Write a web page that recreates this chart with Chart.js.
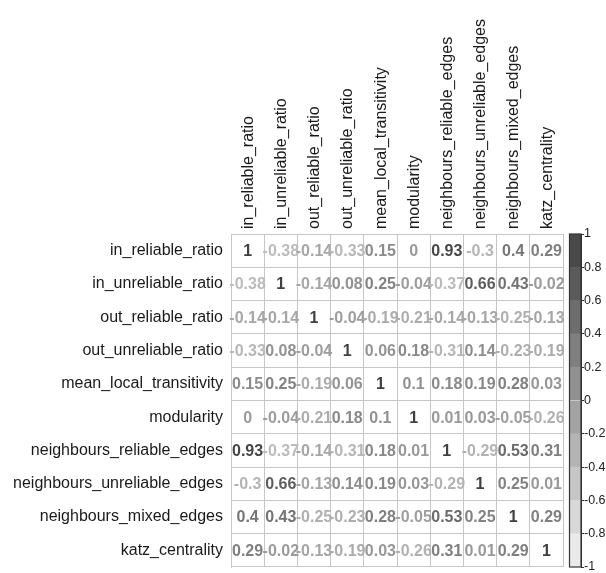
<!DOCTYPE html>
<html lang="en">
<head>
    <title>Correlation matrix</title>
    <script src="https://cdn.jsdelivr.net/npm/chart.js"></script>
    <style>
        body { margin: 0; background: #fff; }
        #wrap { position: relative; width: 606px; height: 573px; }
        #wrap canvas { position: absolute; top: 0; }
    </style>
</head>
<body>

<div id="wrap">
    <canvas id="heat" width="606" height="573" style="left:0"></canvas>
    <canvas id="bar" width="46" height="573" style="left:560px"></canvas>
</div>

<script>
    var varNames = [
        "in_reliable_ratio", "in_unreliable_ratio", "out_reliable_ratio", "out_unreliable_ratio",
        "mean_local_transitivity", "modularity", "neighbours_reliable_edges",
        "neighbours_unreliable_edges", "neighbours_mixed_edges", "katz_centrality"
    ];

    // one row per variable
    var rowInReliable      = [1, -0.38, -0.14, -0.33, 0.15, 0, 0.93, -0.3, 0.4, 0.29];
    var rowInUnreliable    = [-0.38, 1, -0.14, 0.08, 0.25, -0.04, -0.37, 0.66, 0.43, -0.02];
    var rowOutReliable     = [-0.14, -0.14, 1, -0.04, -0.19, -0.21, -0.14, -0.13, -0.25, -0.13];
    var rowOutUnreliable   = [-0.33, 0.08, -0.04, 1, 0.06, 0.18, -0.31, 0.14, -0.23, -0.19];
    var rowTransitivity    = [0.15, 0.25, -0.19, 0.06, 1, 0.1, 0.18, 0.19, 0.28, 0.03];
    var rowModularity      = [0, -0.04, -0.21, 0.18, 0.1, 1, 0.01, 0.03, -0.05, -0.26];
    var rowNbReliable      = [0.93, -0.37, -0.14, -0.31, 0.18, 0.01, 1, -0.29, 0.53, 0.31];
    var rowNbUnreliable    = [-0.3, 0.66, -0.13, 0.14, 0.19, 0.03, -0.29, 1, 0.25, 0.01];
    var rowNbMixed         = [0.4, 0.43, -0.25, -0.23, 0.28, -0.05, 0.53, 0.25, 1, 0.29];
    var rowKatz            = [0.29, -0.02, -0.13, -0.19, 0.03, -0.26, 0.31, 0.01, 0.29, 1];

    var corrRows = [rowInReliable, rowInUnreliable, rowOutReliable, rowOutUnreliable, rowTransitivity,
        rowModularity, rowNbReliable, rowNbUnreliable, rowNbMixed, rowKatz];

    var legendEdges = [-1, -0.8, -0.6, -0.4, -0.2, 0, 0.2, 0.4, 0.6, 0.8, 1];

    // grey ramp: -1 light, 1 dark
    function grey(v) {
        var g = Math.round(243 - (v + 1) / 2 * 179);
        return "rgb(" + g + "," + g + "," + g + ")";
    }

    var points = [];
    for (var i = 0; i < corrRows.length; i++) {
        for (var j = 0; j < corrRows[i].length; j++) {
            points.push({ x: varNames[j], y: varNames[i], v: corrRows[i][j] });
        }
    }

    var numberPlugin = {
        id: "numbers",
        afterDatasetsDraw: function(chart) {
            var ctx = chart.ctx;
            var meta = chart.getDatasetMeta(0);
            ctx.save();
            ctx.font = "bold 16px 'Liberation Sans', Arial, sans-serif";
            ctx.textAlign = "center";
            ctx.textBaseline = "middle";
            meta.data.forEach(function(pt, k) {
                var v = points[k].v;
                ctx.fillStyle = grey(v);
                ctx.fillText(String(v), pt.x, pt.y + 1);
            });
            ctx.restore();
        }
    };

    var labelFont = { family: "'Liberation Sans', Arial, sans-serif", size: 16 };

    new Chart(document.getElementById("heat").getContext("2d"), {
        type: "scatter",
        data: {
            datasets: [{ data: points, pointRadius: 0, pointHoverRadius: 0 }]
        },
        options: {
            responsive: false,
            animation: false,
            events: [],
            layout: { padding: { left: 0, top: 0, right: 43, bottom: 6 } },
            plugins: { legend: { display: false }, tooltip: { enabled: false } },
            scales: {
                x: {
                    type: "category",
                    labels: varNames,
                    position: "top",
                    offset: true,
                    afterFit: function(s) { s.height = 234; s.paddingLeft = 0; s.paddingRight = 0; },
                    grid: { offset: true, color: "#c6c6c6", drawTicks: false },
                    border: { color: "#c6c6c6" },
                    ticks: { minRotation: 90, maxRotation: 90, padding: 5, labelOffset: 20, color: "#1a1a1a", font: labelFont, autoSkip: false }
                },
                y: {
                    type: "category",
                    labels: varNames,
                    offset: true,
                    afterFit: function(s) { s.width = 231; s.paddingTop = 0; s.paddingBottom = 0; },
                    grid: { offset: true, color: "#c6c6c6", drawTicks: false },
                    border: { color: "#c6c6c6" },
                    ticks: { padding: 8, color: "#1a1a1a", font: labelFont, autoSkip: false }
                }
            }
        },
        plugins: [numberPlugin]
    });

    // colour legend
    var bandSets = [];
    for (var b = 0; b < legendEdges.length - 1; b++) {
        var lo = legendEdges[b], hi = legendEdges[b + 1];
        bandSets.push({
            data: [[lo, hi]],
            backgroundColor: grey((lo + hi) / 2),
            borderWidth: 0,
            barPercentage: 1,
            categoryPercentage: 1
        });
    }

    var outlinePlugin = {
        id: "outline",
        afterDatasetsDraw: function(chart) {
            var a = chart.chartArea, ctx = chart.ctx;
            ctx.save();
            ctx.strokeStyle = "#333";
            ctx.lineWidth = 1.2;
            ctx.strokeRect(a.left + 0.5, a.top, a.right - a.left - 0.5, a.bottom - a.top);
            ctx.restore();
        }
    };

    new Chart(document.getElementById("bar").getContext("2d"), {
        type: "bar",
        data: { labels: [""], datasets: bandSets },
        options: {
            responsive: false,
            animation: false,
            events: [],
            layout: { padding: { left: 9, top: 234, right: 0, bottom: 6 } },
            plugins: { legend: { display: false }, tooltip: { enabled: false } },
            datasets: { bar: { grouped: false } },
            scales: {
                x: { display: false },
                y: {
                    position: "right",
                    min: -1,
                    max: 1,
                    afterFit: function(s) { s.width = 25; s.paddingTop = 0; s.paddingBottom = 0; },
                    grid: { drawOnChartArea: false, tickLength: 3, color: "#333" },
                    border: { color: "#333" },
                    ticks: {
                        stepSize: 0.2,
                        padding: 0,
                        color: "#222",
                        font: { family: "'Liberation Sans', Arial, sans-serif", size: 12.5 },
                        callback: function(v) { return String(Math.round(v * 10) / 10); }
                    }
                }
            }
        },
        plugins: [outlinePlugin]
    });
</script>
</body>
</html>
